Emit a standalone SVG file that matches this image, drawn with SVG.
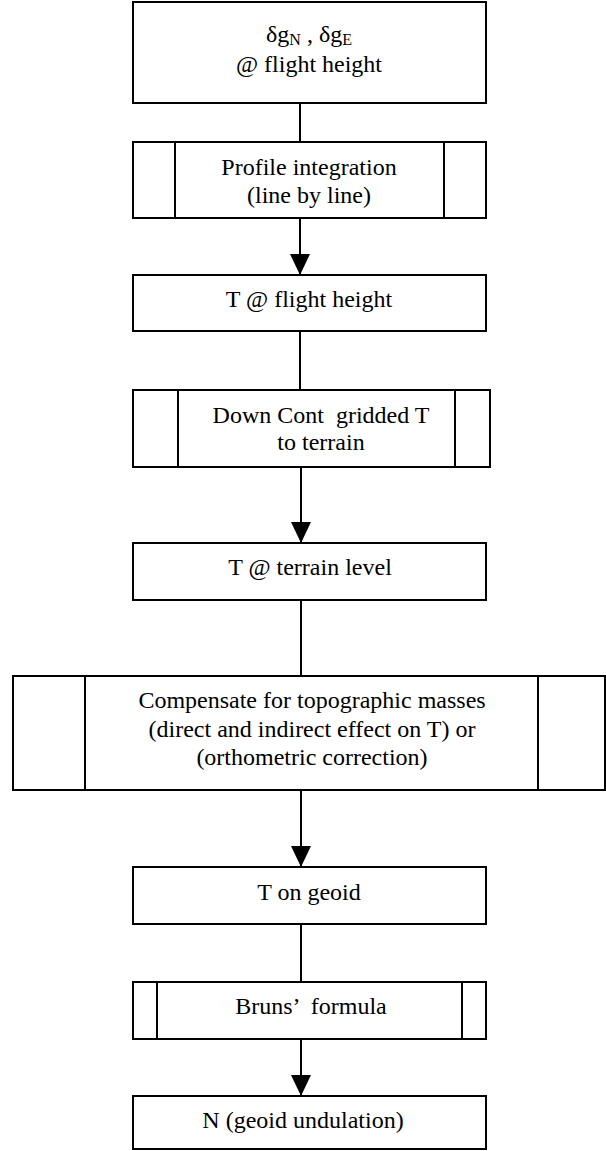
<svg xmlns="http://www.w3.org/2000/svg" width="606" height="1151" viewBox="0 0 606 1151">
<style>
.box{fill:#fff;stroke:#000;stroke-width:2}
.div{stroke:#000;stroke-width:2}
.t{font-family:"Liberation Serif","Times New Roman",serif;font-size:24px;fill:#000;text-anchor:middle}
.c{stroke:#000;stroke-width:2;fill:none}
</style>
<defs>
<marker id="ah" markerUnits="userSpaceOnUse" markerWidth="22" markerHeight="20" refX="21" refY="10" orient="auto">
<path d="M0,0 L21,10 L0,20 Z" fill="#000"/>
</marker>
</defs>
<g id="connectors">
<line class="c" x1="300" y1="103" x2="300" y2="142"/>
<line class="c" x1="300" y1="218" x2="300" y2="275" marker-end="url(#ah)"/>
<line class="c" x1="300" y1="331" x2="300" y2="390"/>
<line class="c" x1="301" y1="467" x2="301" y2="543" marker-end="url(#ah)"/>
<line class="c" x1="301" y1="600" x2="301" y2="676"/>
<line class="c" x1="301" y1="790" x2="301" y2="867" marker-end="url(#ah)"/>
<line class="c" x1="301" y1="924" x2="301" y2="982"/>
<line class="c" x1="301" y1="1039" x2="301" y2="1096" marker-end="url(#ah)"/>
</g>
<g id="n1">
<rect class="box" x="133" y="2" width="353" height="101"/>
<text class="t" x="309" y="42">δg<tspan font-size="16" dy="3">N</tspan><tspan dy="-3"> , δg</tspan><tspan font-size="16" dy="3">E</tspan></text>
<text class="t" x="309" y="72">@ flight height</text>
</g>
<g id="n2">
<rect class="box" x="133" y="142" width="353" height="76"/>
<line class="div" x1="175" y1="142" x2="175" y2="218"/>
<line class="div" x1="444" y1="142" x2="444" y2="218"/>
<text class="t" x="309" y="175">Profile integration</text>
<text class="t" x="309" y="203">(line by line)</text>
</g>
<g id="n3">
<rect class="box" x="133" y="275" width="353" height="56"/>
<text class="t" x="309" y="307">T @ flight height</text>
</g>
<g id="n4">
<rect class="box" x="133" y="390" width="357" height="77"/>
<line class="div" x1="178" y1="390" x2="178" y2="467"/>
<line class="div" x1="455" y1="390" x2="455" y2="467"/>
<text class="t" x="321" y="423" xml:space="preserve">Down Cont  gridded T</text>
<text class="t" x="321" y="450">to terrain</text>
</g>
<g id="n5">
<rect class="box" x="133" y="543" width="353" height="57"/>
<text class="t" x="310" y="575">T @ terrain level</text>
</g>
<g id="n6">
<rect class="box" x="13" y="676" width="592" height="114"/>
<line class="div" x1="85" y1="676" x2="85" y2="790"/>
<line class="div" x1="538" y1="676" x2="538" y2="790"/>
<text class="t" x="312" y="708">Compensate for topographic masses</text>
<text class="t" x="312" y="737">(direct and indirect effect on T) or</text>
<text class="t" x="312" y="765">(orthometric correction)</text>
</g>
<g id="n7">
<rect class="box" x="133" y="867" width="353" height="57"/>
<text class="t" x="309" y="900">T on geoid</text>
</g>
<g id="n8">
<rect class="box" x="133" y="982" width="353" height="57"/>
<line class="div" x1="157" y1="982" x2="157" y2="1039"/>
<line class="div" x1="462" y1="982" x2="462" y2="1039"/>
<text class="t" x="311" y="1014" xml:space="preserve">Bruns’  formula</text>
</g>
<g id="n9">
<rect class="box" x="133" y="1096" width="353" height="53"/>
<text class="t" x="303" y="1128">N (geoid undulation)</text>
</g>
</svg>
